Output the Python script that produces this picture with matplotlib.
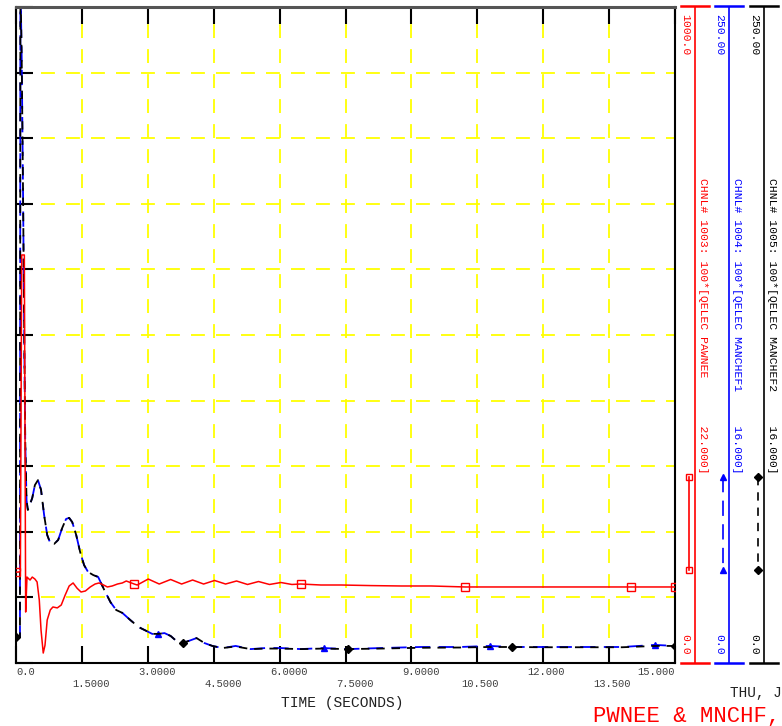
import matplotlib
matplotlib.use("Agg")
import matplotlib.pyplot as plt
from matplotlib.lines import Line2D

plt.rcParams["lines.scale_dashes"] = False
MONO = "Liberation Mono"

# ---- data ----
# CHNL 1003: 100*[QELEC PAWNEE], scale 0..1000
t_red = [0.0, 0.05, 0.10, 0.13, 0.19, 0.22, 0.25, 0.32, 0.37, 0.43, 0.48, 0.53,
         0.57, 0.62, 0.66, 0.71, 0.78, 0.84, 0.94, 1.03, 1.12, 1.21, 1.30, 1.39,
         1.48, 1.58, 1.69, 1.80, 1.89, 1.99, 2.08, 2.19, 2.31, 2.42, 2.51, 2.69,
         2.76, 3.01, 3.26, 3.52, 3.77, 4.02, 4.27, 4.52, 4.77, 5.02, 5.27, 5.52,
         5.77, 6.03, 6.28, 6.48, 6.94, 7.40, 8.08, 8.77, 9.45, 10.23, 11.05,
         12.50, 13.99, 15.0]
v_red = [138.7, 138.5, 140.0, 622.0, 622.0, 77.7, 131.0, 126.5, 131.0, 128.0,
         123.5, 96.0, 50.0, 15.2, 27.0, 65.5, 80.8, 85.4, 84.0, 88.4, 103.7,
         117.4, 122.0, 114.0, 108.2, 109.8, 115.9, 120.4, 122.0, 119.0, 115.9,
         117.4, 120.4, 122.0, 125.0, 120.4, 118.9, 128.0, 120.4, 127.3, 120.4,
         126.5, 120.4, 125.8, 120.4, 125.0, 119.7, 124.2, 119.7, 122.7, 119.7,
         120.4, 118.9, 118.9, 118.0, 117.4, 117.4, 115.9, 115.9, 115.9, 115.9,
         115.9]
mark_red = [0.0, 2.69, 6.48, 10.23, 13.99, 15.0]

# CHNL 1004 / 1005: 100*[QELEC MANCHEF1/2], scale 0..250
t_mc = [0.0, 0.05, 0.09, 0.10, 0.13, 0.16, 0.19, 0.21, 0.24, 0.27, 0.37, 0.43,
        0.50, 0.57, 0.64, 0.71, 0.78, 0.87, 0.96, 1.05, 1.14, 1.21, 1.28, 1.37,
        1.46, 1.55, 1.64, 1.76, 1.87, 2.01, 2.15, 2.28, 2.42, 2.60, 2.79, 2.97,
        3.10, 3.24, 3.38, 3.52, 3.65, 3.79, 3.93, 4.11, 4.29, 4.47, 4.70, 5.00,
        5.34, 5.68, 6.03, 6.48, 7.00, 7.56, 8.30, 9.20, 10.10, 10.78, 11.30,
        11.96, 12.90, 13.80, 14.54, 15.0]
v_mch1 = [9.9, 9.9, 10.0, 262.0, 230.0, 180.0, 120.0, 85.0, 62.0, 58.3, 62.9,
          67.8, 69.7, 66.0, 56.4, 48.8, 45.7, 45.4, 46.9, 51.4, 54.9, 55.3,
          53.7, 48.8, 42.3, 37.3, 34.7, 33.5, 32.8, 27.8, 23.2, 20.2, 19.1,
          16.4, 13.7, 12.2, 11.1, 11.1, 11.4, 10.3, 8.4, 7.6, 8.4, 9.5, 7.6,
          6.5, 5.7, 6.5, 5.3, 5.7, 5.7, 5.3, 5.7, 5.3, 5.7, 6.1, 6.1, 6.5, 6.1,
          6.1, 6.1, 6.1, 6.9, 6.5]
v_mch2 = [9.9, 9.9, 10.0, 262.0, 230.0, 180.0, 120.0, 85.0, 62.0, 58.3, 62.9,
          67.8, 69.7, 66.0, 56.4, 48.8, 45.7, 45.4, 46.9, 51.4, 54.9, 55.3,
          53.7, 48.8, 42.3, 37.3, 34.7, 33.5, 32.8, 27.8, 23.2, 20.2, 19.1,
          16.4, 13.7, 12.2, 11.1, 11.1, 11.4, 10.3, 8.4, 7.6, 8.4, 9.5, 7.6,
          6.5, 5.7, 6.3, 5.3, 5.5, 5.5, 5.3, 5.5, 5.3, 5.5, 5.8, 5.9, 6.1, 6.1,
          6.0, 6.0, 6.0, 6.5, 6.5]
mark_mch1 = [3.24, 7.00, 10.78, 14.54]
mark_mch2 = [0.0, 3.79, 7.56, 11.30, 15.0]

x_ticks = [0.0, 1.5, 3.0, 4.5, 6.0, 7.5, 9.0, 10.5, 12.0, 13.5, 15.0]
x_labels = ["0.0", "1.5000", "3.0000", "4.5000", "6.0000", "7.5000", "9.0000",
            "10.500", "12.000", "13.500", "15.000"]

channels = [
    ("CHNL# 1003: 100*[QELEC PAWNEE       22.000]", "1000.0", "red"),
    ("CHNL# 1004: 100*[QELEC MANCHEF1     16.000]", "250.00", "blue"),
    ("CHNL# 1005: 100*[QELEC MANCHEF2     16.000]", "250.00", "black"),
]

W, H = 782, 726


def fx(x):
    return x / W


def fy(y):
    return 1 - y / H


fig = plt.figure(figsize=(W / 100, H / 100), dpi=100)
ax = fig.add_axes([fx(16), fy(663), fx(675) - fx(16), fy(7) - fy(663)])
ax.set_xlim(0, 15)
ax.set_ylim(0, 250)
ax.set_xticks(x_ticks)
ax.set_yticks(range(0, 251, 25))
ax.set_xticklabels([])
ax.set_yticklabels([])
ax.tick_params(which="both", direction="in", length=12, width=1.5,
               color="black", top=True, right=True)
ax.grid(True, color="#ffff00", linestyle=(0, (10, 8)), linewidth=1.3)
for side in ["left", "bottom", "right"]:
    ax.spines[side].set_color("black")
    ax.spines[side].set_linewidth(1.5)
ax.spines["top"].set_color("#555555")
ax.spines["top"].set_linewidth(2.2)


def mark_idx(ts, marks):
    return [min(range(len(ts)), key=lambda i: abs(ts[i] - m)) for m in marks]


ax.plot(t_mc, v_mch1, color="blue", lw=1.3, linestyle=(0, (11, 6)),
        marker="^", ms=5, markevery=mark_idx(t_mc, mark_mch1))
ax.plot(t_mc, v_mch2, color="black", lw=1.3, linestyle=(0, (6, 5)),
        marker="D", ms=4, markevery=mark_idx(t_mc, mark_mch2))

ax2 = ax.twinx()
ax2.set_ylim(0, 1000)
ax2.set_yticks([])
for s in ax2.spines.values():
    s.set_visible(False)
ax2.plot(t_red, v_red, color="red", lw=1.1, marker="s", ms=5.5, mfc="none",
         mew=1.0, markevery=mark_idx(t_red, mark_red))

# x tick labels in two staggered rows, decimal point on the tick
cw = 7.6 * 0.6
for i, (xt, lab) in enumerate(zip(x_ticks, x_labels)):
    dy = -9 if i % 2 == 0 else -21
    if i == 0:
        ha, dx = "left", 0
    elif i == len(x_ticks) - 1:
        ha, dx = "right", 0
    else:
        ha, dx = "left", -(lab.index(".") + 0.5) * cw
    ax.annotate(lab, (xt, 0), xycoords=("data", "axes fraction"),
                xytext=(dx, dy * 0.72), textcoords="offset points",
                ha=ha, va="center", fontsize=7.6, family=MONO, color="#404040",
                annotation_clip=False)

fig.text(fx(342), fy(703), "TIME (SECONDS)", ha="center", va="center",
         fontsize=10.5, family=MONO, color="#202020")

# right-hand channel scales and legend
col_x = [695, 729, 764]
leg_x = [689, 723, 758]
leg_style = [("-", "s", "none"), ((0, (11, 6)), "^", "blue"),
             ((0, (6, 5)), "D", "black")]
for (lab, top, col), lx, gx, (ls, mk, mfc) in zip(channels, col_x, leg_x, leg_style):
    fig.add_artist(Line2D([fx(lx), fx(lx)], [fy(7), fy(663)], color=col, lw=1.2))
    fig.add_artist(Line2D([fx(lx - 14), fx(lx + 14)], [fy(6), fy(6)],
                          color=col, lw=1.8))
    fig.add_artist(Line2D([fx(lx - 14), fx(lx + 14)], [fy(663), fy(663)],
                          color=col, lw=1.8))
    fig.text(fx(lx - 10), fy(14), top, rotation=270, rotation_mode="anchor",
             ha="left", va="center", fontsize=8.2, family=MONO, color=col)
    fig.text(fx(lx - 10), fy(655), "0.0", rotation=270, rotation_mode="anchor",
             ha="right", va="center", fontsize=8.2, family=MONO, color=col)
    fig.text(fx(lx + 8), fy(178), lab, rotation=270, rotation_mode="anchor",
             ha="left", va="center", fontsize=8.2, family=MONO, color=col)
    fig.add_artist(Line2D([fx(gx), fx(gx)], [fy(477), fy(570)], color=col,
                          lw=1.2, linestyle=ls, marker=mk, ms=5 if mk != "D" else 4,
                          mfc=mfc, mec=col))

fig.text(fx(730), fy(693), "THU, J", ha="left", va="center",
         fontsize=10.4, family=MONO, color="#202020")
fig.text(fx(593), fy(716), "PWNEE & MNCHF,", ha="left", va="center",
         fontsize=16, family=MONO, color="red")

fig.savefig("out.png", dpi=100)
